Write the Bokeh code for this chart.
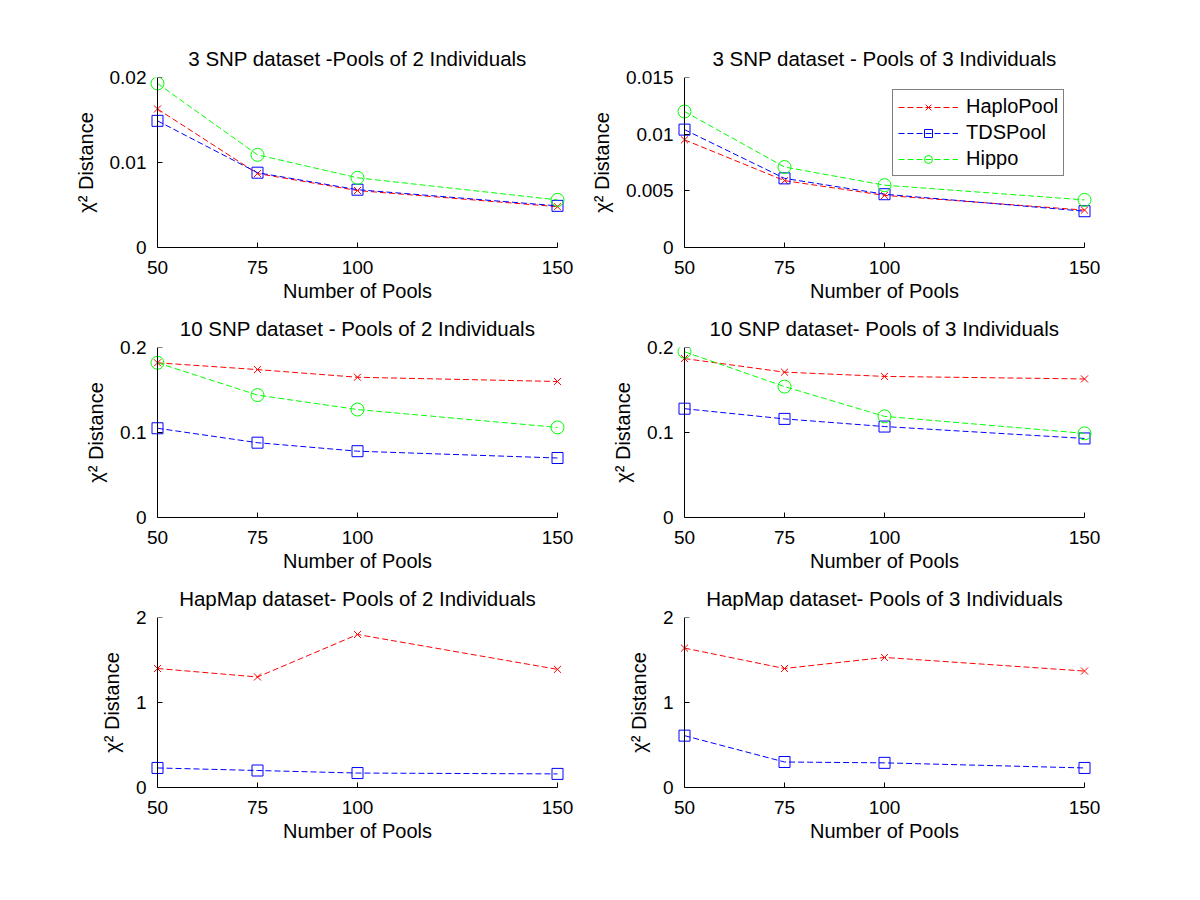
from bokeh.plotting import figure
from bokeh.layouts import gridplot
from bokeh.models import Range1d, FixedTicker, Legend, LegendItem, LinearAxis
from bokeh.embed import file_html
from bokeh.resources import INLINE

# ---------------- data ----------------
pools = [50, 75, 100, 150]
x_ticks = [50, 75, 100, 150]
x_tick_labels = ["50", "75", "100", "150"]

titles = [
    "3 SNP dataset -Pools of 2 Individuals",
    "3 SNP dataset - Pools of 3 Individuals",
    "10 SNP dataset - Pools of 2 Individuals",
    "10 SNP dataset- Pools of 3 Individuals",
    "HapMap dataset- Pools of 2 Individuals",
    "HapMap dataset- Pools of 3 Individuals",
]

haplo_3snp_p2 = [0.0163, 0.0087, 0.0067, 0.0048]
tds_3snp_p2 = [0.0149, 0.0088, 0.0068, 0.0049]
hippo_3snp_p2 = [0.0193, 0.0109, 0.0082, 0.0056]

haplo_3snp_p3 = [0.0095, 0.0059, 0.0046, 0.0033]
tds_3snp_p3 = [0.0104, 0.0061, 0.0047, 0.0032]
hippo_3snp_p3 = [0.0120, 0.0071, 0.0055, 0.0042]

haplo_10snp_p2 = [0.182, 0.174, 0.165, 0.160]
tds_10snp_p2 = [0.105, 0.088, 0.078, 0.070]
hippo_10snp_p2 = [0.182, 0.144, 0.127, 0.106]

haplo_10snp_p3 = [0.187, 0.171, 0.166, 0.163]
tds_10snp_p3 = [0.128, 0.116, 0.107, 0.093]
hippo_10snp_p3 = [0.195, 0.154, 0.119, 0.099]

haplo_hapmap_p2 = [1.40, 1.30, 1.80, 1.39]
tds_hapmap_p2 = [0.23, 0.20, 0.17, 0.16]

haplo_hapmap_p3 = [1.64, 1.40, 1.53, 1.37]
tds_hapmap_p3 = [0.61, 0.30, 0.29, 0.23]

y_max = [0.02, 0.015, 0.2, 0.2, 2, 2]
y_ticks = [
    [0, 0.01, 0.02],
    [0, 0.005, 0.01, 0.015],
    [0, 0.1, 0.2],
    [0, 0.1, 0.2],
    [0, 1, 2],
    [0, 1, 2],
]
y_tick_labels = [
    ["0", "0.01", "0.02"],
    ["0", "0.005", "0.01", "0.015"],
    ["0", "0.1", "0.2"],
    ["0", "0.1", "0.2"],
    ["0", "1", "2"],
    ["0", "1", "2"],
]

series_names = ["HaploPool", "TDSPool", "Hippo"]
panel_series = [
    [haplo_3snp_p2, tds_3snp_p2, hippo_3snp_p2],
    [haplo_3snp_p3, tds_3snp_p3, hippo_3snp_p3],
    [haplo_10snp_p2, tds_10snp_p2, hippo_10snp_p2],
    [haplo_10snp_p3, tds_10snp_p3, hippo_10snp_p3],
    [haplo_hapmap_p2, tds_hapmap_p2, None],
    [haplo_hapmap_p3, tds_hapmap_p3, None],
]

# ---------------- style ----------------
FONT = "Liberation Sans"
colors = ["#ff0000", "#0000ff", "#00ff00"]
markers = ["x", "square", "circle"]
msizes = [10, 11, 13]

PAD = 10          # px of padding left/right of the data area (edge markers stay whole)
AX_W = 400        # x axis length in px
AX_H = 170        # y axis length in px
TICK = 5          # inward tick length in px
FW = AX_W + 2 * PAD

col_left = [147, 84]
col_right = [20, 60]
row_top = [77, 40, 40]
row_bottom = [60, 60, 62]


def style_axis(ax):
    ax.axis_line_color = "black"
    ax.axis_line_width = 1
    ax.major_tick_line_color = "black"
    ax.major_tick_in = TICK
    ax.major_tick_out = 0
    ax.minor_tick_line_color = None
    ax.major_label_text_font = FONT
    ax.major_label_text_font_size = "19px"
    ax.major_label_text_color = "black"
    ax.axis_label_text_font = FONT
    ax.axis_label_text_font_size = "20px"
    ax.axis_label_text_font_style = "normal"
    ax.axis_label_text_color = "black"


def make_panel(i):
    r, c = divmod(i, 2)
    xscale = (pools[-1] - pools[0]) / AX_W
    xpad = PAD * xscale
    p = figure(
        frame_width=FW, frame_height=AX_H,
        x_range=Range1d(pools[0] - xpad, pools[-1] + xpad),
        y_range=Range1d(0, y_max[i]),
        output_backend="svg", toolbar_location=None,
        min_border_left=col_left[c], min_border_right=col_right[c],
        min_border_top=row_top[r], min_border_bottom=row_bottom[r],
        title=titles[i],
    )
    p.outline_line_color = None
    p.background_fill_color = "white"
    p.border_fill_color = "white"
    p.xgrid.visible = False
    p.ygrid.visible = False

    p.title.align = "center"
    p.title.text_font = FONT
    p.title.text_font_size = "20.5px"
    p.title.text_font_style = "normal"
    p.title.text_color = "black"
    p.title.standoff = 15

    xa = p.xaxis[0]
    style_axis(xa)
    xa.ticker = FixedTicker(ticks=x_ticks)
    xa.major_label_overrides = dict(zip(x_ticks, x_tick_labels))
    xa.bounds = (pools[0], pools[-1])
    xa.axis_label = "Number of Pools"
    xa.major_label_standoff = 13
    xa.axis_label_standoff = 3

    # y axis labels (at the frame edge); its own line/ticks are blank
    ya = p.yaxis[0]
    style_axis(ya)
    ya.ticker = FixedTicker(ticks=y_ticks[i])
    ya.major_label_overrides = dict(zip(y_ticks[i], y_tick_labels[i]))
    ya.axis_label = "χ² Distance"
    ya.axis_line_color = "white"
    ya.major_tick_line_color = "white"
    ya.major_tick_in = 0
    ya.major_label_standoff = 1
    ya.axis_label_standoff = 10

    # y axis line + inward ticks, sitting at the first pool
    yline = LinearAxis(fixed_location=pools[0])
    style_axis(yline)
    yline.ticker = FixedTicker(ticks=y_ticks[i])
    yline.major_label_overrides = {t: "" for t in y_ticks[i]}
    yline.major_label_text_font_size = "0px"
    yline.major_label_standoff = 0
    yline.bounds = (0, y_max[i])
    p.add_layout(yline, "left")

    items = []
    for k, ys in enumerate(panel_series[i]):
        if ys is None:
            continue
        ln = p.line(pools, ys, line_color=colors[k], line_width=1, line_dash="6 3")
        sc = p.scatter(pools, ys, marker=markers[k], size=msizes[k],
                       line_color=colors[k], fill_color=None, line_width=1)
        items.append(LegendItem(label=series_names[k], renderers=[ln, sc]))

    if i == 1:
        leg = Legend(items=items, location=(218, 71))
        leg.label_text_font = FONT
        leg.label_text_font_size = "20px"
        leg.label_text_color = "black"
        leg.glyph_width = 60
        leg.glyph_height = 20
        leg.label_height = 20
        leg.label_standoff = 8
        leg.padding = 5
        leg.spacing = 3
        leg.margin = 0
        leg.border_line_color = "black"
        leg.border_line_width = 1
        leg.background_fill_color = "white"
        leg.background_fill_alpha = 1.0
        p.add_layout(leg)
    return p


figs = [make_panel(i) for i in range(6)]
grid = gridplot([[figs[0], figs[1]], [figs[2], figs[3]], [figs[4], figs[5]]],
                toolbar_location=None)

open("out.html", "w").write(file_html(grid, INLINE))
